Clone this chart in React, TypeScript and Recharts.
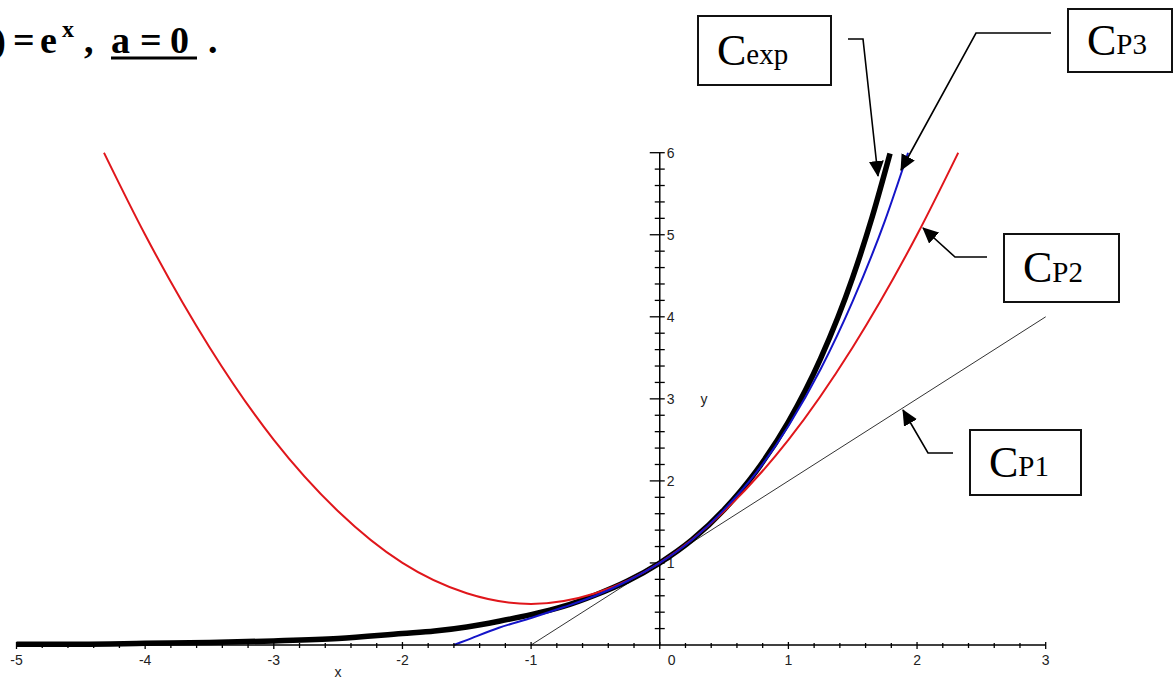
import React from "react";
import { LineChart, Line, XAxis, YAxis, ReferenceLine } from "recharts";

// e^x and its Taylor polynomials at a = 0
const expX = [-5, -4.5, -4, -3.5, -3, -2.5, -2, -1.75, -1.5, -1.25, -1, -0.75, -0.5, -0.25, 0, 0.25, 0.5, 0.75, 1, 1.25, 1.5, 1.65, 1.79];
const expY = [0.01, 0.01, 0.02, 0.03, 0.05, 0.08, 0.14, 0.17, 0.22, 0.29, 0.37, 0.47, 0.61, 0.78, 1, 1.28, 1.65, 2.12, 2.72, 3.49, 4.48, 5.21, 5.99];

const p1X = [-1, 3];
const p1Y = [0, 4];

const p2X = [-4.32, -4, -3.5, -3, -2.5, -2, -1.5, -1, -0.5, 0, 0.5, 1, 1.5, 2, 2.32];
const p2Y = [6, 5, 3.63, 2.5, 1.63, 1, 0.63, 0.5, 0.63, 1, 1.63, 2.5, 3.63, 5, 6];

const p3X = [-1.6, -1.5, -1.25, -1, -0.75, -0.5, -0.25, 0, 0.25, 0.5, 0.75, 1, 1.25, 1.5, 1.75, 1.93];
const p3Y = [0, 0.06, 0.21, 0.33, 0.46, 0.6, 0.78, 1, 1.28, 1.65, 2.1, 2.67, 3.36, 4.19, 5.17, 6];

const xMajor = [-5, -4, -3, -2, -1, 0, 1, 2, 3];
const yMajor = [0, 1, 2, 3, 4, 5, 6];
const minorPerUnit = 5;

const toPoints = (xs: number[], ys: number[]) => xs.map((x, i) => ({ x, y: ys[i] }));

const withMinors = (majors: number[]) => {
  const out: number[] = [];
  majors.forEach((m, i) => {
    out.push(m);
    if (i < majors.length - 1) {
      for (let k = 1; k < minorPerUnit; k++) out.push(Math.round((m + k / minorPerUnit) * 10) / 10);
    }
  });
  return out;
};

const xTicks = withMinors(xMajor);
const yTicks = withMinors(yMajor).filter((v) => v !== 0);

const tickFont = { fontFamily: "'Liberation Sans', Arial, sans-serif", fontSize: 14, fill: "#222" };

function XTick(props: any) {
  const { x, y, payload } = props;
  const v = payload.value;
  const major = Number.isInteger(v);
  return (
    <g>
      <line x1={x} x2={x} y1={major ? y - 3 : y - 2} y2={major ? y + 4 : y + 3} stroke="#000" strokeWidth={1.3} />
      {major && (
        <text x={v === 0 ? x + 12 : x} y={y + 20} textAnchor="middle" {...tickFont}>
          {v}
        </text>
      )}
    </g>
  );
}

function YTick(props: any) {
  const { x1, y1, v } = props;
  const major = Number.isInteger(v);
  return (
    <g>
      <line x1={major ? x1 - 10 : x1 - 5} x2={x1 + 5} y1={y1} y2={y1} stroke="#000" strokeWidth={1.3} />
      {major && (
        <text x={x1 + 7} y={y1 + 5} textAnchor="start" {...tickFont}>
          {v}
        </text>
      )}
    </g>
  );
}

const serif = "'Liberation Serif', 'Times New Roman', serif";

function Tag({ left, top, width, height, sub }: { left: number; top: number; width: number; height: number; sub: string }) {
  return (
    <div
      style={{
        position: "absolute",
        left,
        top,
        width,
        height,
        boxSizing: "border-box",
        border: "2px solid #111",
        background: "#fff",
        display: "flex",
        alignItems: "center",
        paddingLeft: 18,
        fontFamily: serif,
        lineHeight: 1,
        color: "#000",
      }}
    >
      <span style={{ fontSize: 44 }}>C</span>
      <span style={{ fontSize: 29, position: "relative", top: 4 }}>{sub}</span>
    </div>
  );
}

export default function App() {
  return (
    <div style={{ position: "absolute", left: 0, top: 0, width: 1175, height: 680, background: "#fff", overflow: "hidden" }}>
      <LineChart width={1175} height={680} margin={{ top: 152.7, right: 129.3, bottom: 0, left: 16.5 }}>
        <XAxis
          type="number"
          dataKey="x"
          domain={[-5, 3]}
          ticks={xTicks}
          interval={0}
          tickSize={0}
          tickMargin={0}
          height={35}
          axisLine={{ stroke: "#000", strokeWidth: 1.5 }}
          tickLine={false}
          tick={(p: any) => <XTick {...p} />}
        />
        <YAxis type="number" dataKey="y" domain={[0, 6]} hide width={0} />
        <ReferenceLine x={0} stroke="#000" strokeWidth={1.5} />
        {yTicks.map((v) => (
          <ReferenceLine
            key={v}
            segment={[
              { x: 0, y: v },
              { x: 0, y: v },
            ]}
            shape={(p: any) => <YTick {...p} v={v} />}
          />
        ))}
        <Line data={toPoints(p1X, p1Y)} dataKey="y" type="linear" stroke="#333" strokeWidth={1} dot={false} isAnimationActive={false} />
        <Line data={toPoints(expX, expY)} dataKey="y" type="monotone" stroke="#000" strokeWidth={5.5} dot={false} isAnimationActive={false} />
        <Line data={toPoints(p2X, p2Y)} dataKey="y" type="monotone" stroke="#e0161b" strokeWidth={2} dot={false} isAnimationActive={false} />
        <Line data={toPoints(p3X, p3Y)} dataKey="y" type="monotone" stroke="#1414c8" strokeWidth={2} dot={false} isAnimationActive={false} />
      </LineChart>

      <svg width={1175} height={680} style={{ position: "absolute", left: 0, top: 0, pointerEvents: "none" }}>
        <defs>
          <marker id="ah" markerWidth="16" markerHeight="15" refX="15" refY="7.5" orient="auto" markerUnits="userSpaceOnUse">
            <path d="M0,0 L16,7.5 L0,15 z" fill="#000" />
          </marker>
        </defs>
        <polyline points="848,39 863,39 878,176" fill="none" stroke="#000" strokeWidth={1.6} markerEnd="url(#ah)" />
        <polyline points="1051,33 976,33 901,170" fill="none" stroke="#000" strokeWidth={1.6} markerEnd="url(#ah)" />
        <polyline points="987,257 955,257 923,228" fill="none" stroke="#000" strokeWidth={1.6} markerEnd="url(#ah)" />
        <polyline points="953,453 928,453 903,410" fill="none" stroke="#000" strokeWidth={1.6} markerEnd="url(#ah)" />

        <text fontFamily={serif} fontWeight={700} fontSize={38} fill="#000">
          <tspan x={6} y={53} textAnchor="end">f(x)</tspan>
          <tspan x={13} y={53}>=</tspan>
          <tspan x={40} y={53}>e</tspan>
          <tspan x={62} y={37} fontSize={24}>x</tspan>
          <tspan x={84} y={53}>,</tspan>
          <tspan x={111} y={53}>a</tspan>
          <tspan x={140} y={53}>=</tspan>
          <tspan x={170} y={53}>0</tspan>
          <tspan x={208} y={53}>.</tspan>
        </text>
        <line x1={111} x2={197} y1={58} y2={58} stroke="#000" strokeWidth={3} />

        <text x={338} y={677} textAnchor="middle" {...tickFont}>x</text>
        <text x={704} y={404} textAnchor="middle" {...tickFont}>y</text>
      </svg>

      <Tag left={697} top={15} width={135} height={71} sub="exp" />
      <Tag left={1067} top={8} width={106} height={65} sub="P3" />
      <Tag left={1003} top={233} width={117} height={70} sub="P2" />
      <Tag left={969} top={429} width={113} height={67} sub="P1" />
    </div>
  );
}
